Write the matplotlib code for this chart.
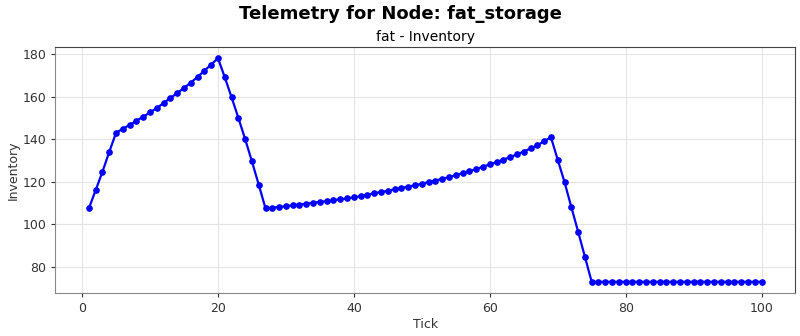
import numpy as np
import matplotlib
matplotlib.use("Agg")
import matplotlib.pyplot as plt

node_name = "fat_storage"
metric = "Inventory"

ticks = list(range(1, 101))
inventory = [
    107.5, 116.0, 124.7, 134.0, 143.0, 145.0, 146.7, 148.7, 150.6, 152.6,
    154.7, 157.0, 159.4, 161.7, 164.1, 166.6, 169.3, 172.2, 175.1, 178.1,
    169.2, 159.8, 150.1, 140.1, 129.6, 118.7, 107.5, 107.9, 108.2, 108.5,
    109.0, 109.3, 109.8, 110.1, 110.6, 110.9, 111.4, 111.8, 112.2, 112.7,
    113.3, 114.0, 114.6, 115.2, 115.8, 116.5, 117.1, 117.7, 118.4, 119.1,
    119.9, 120.6, 121.4, 122.2, 123.1, 124.1, 125.0, 126.0, 127.1, 128.2,
    129.3, 130.4, 131.6, 132.9, 134.2, 135.7, 137.2, 139.0, 141.0, 130.4,
    119.9, 108.2, 96.6, 84.8, 73.0, 73.0, 73.0, 73.0, 73.0, 73.0,
    73.0, 73.0, 73.0, 73.0, 73.0, 73.0, 73.0, 73.0, 73.0, 73.0,
    73.0, 73.0, 73.0, 73.0, 73.0, 73.0, 73.0, 73.0, 73.0, 73.0,
]

fig, ax = plt.subplots(figsize=(8, 3.36), dpi=100)
fig.subplots_adjust(left=0.069, right=0.994, top=0.86, bottom=0.128)

ax.plot(ticks, inventory, color="blue", linewidth=1.6, marker="o", markersize=3.8)

fig.suptitle(f"Telemetry for Node: {node_name}", fontsize=13, fontweight="bold", y=0.985)
ax.set_title(f"fat - {metric}", fontsize=10, pad=4)
ax.set_xlabel("Tick", fontsize=9, color="#333333", labelpad=2)
ax.set_ylabel(metric, fontsize=9, color="#333333", labelpad=2)
ax.tick_params(labelsize=9, colors="#333333", length=3)
ax.grid(True, color="#e4e4e4", linewidth=0.8)
for side in ["left", "bottom"]:
    ax.spines[side].set_color("#888888")
for side in ["top", "right"]:
    ax.spines[side].set_color("#444444")

fig.savefig("out.png")
